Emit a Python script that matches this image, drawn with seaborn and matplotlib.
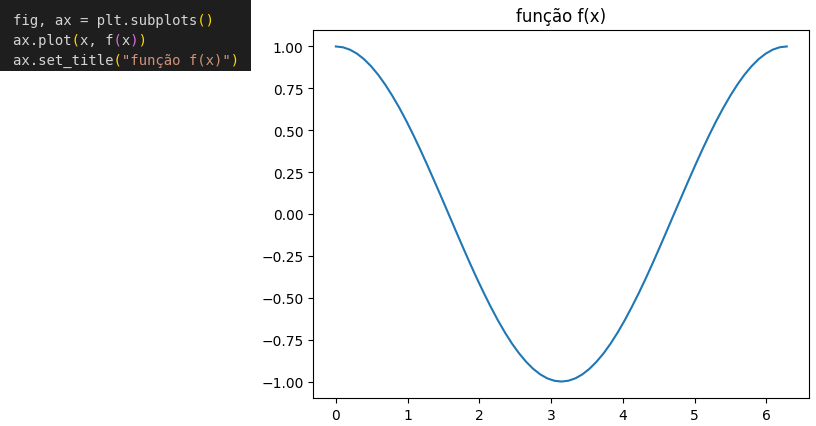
import matplotlib
matplotlib.use("Agg")
import matplotlib.pyplot as plt
from matplotlib.patches import Rectangle
import seaborn as sns
import pandas as pd

# Data
x_vals = [0.000, 0.098, 0.196, 0.295, 0.393, 0.491, 0.589, 0.687, 0.785, 0.884,
          0.982, 1.080, 1.178, 1.276, 1.374, 1.473, 1.571, 1.669, 1.767, 1.865,
          1.963, 2.062, 2.160, 2.258, 2.356, 2.454, 2.553, 2.651, 2.749, 2.847,
          2.945, 3.043, 3.142, 3.240, 3.338, 3.436, 3.534, 3.632, 3.731, 3.829,
          3.927, 4.025, 4.123, 4.222, 4.320, 4.418, 4.516, 4.614, 4.712, 4.811,
          4.909, 5.007, 5.105, 5.203, 5.301, 5.400, 5.498, 5.596, 5.694, 5.792,
          5.890, 5.989, 6.087, 6.185, 6.283]
y_vals = [1.0000, 0.9952, 0.9808, 0.9569, 0.9239, 0.8819, 0.8315, 0.7730, 0.7071, 0.6344,
          0.5556, 0.4714, 0.3827, 0.2903, 0.1951, 0.0980, 0.0000, -0.0980, -0.1951, -0.2903,
          -0.3827, -0.4714, -0.5556, -0.6344, -0.7071, -0.7730, -0.8315, -0.8819, -0.9239, -0.9569,
          -0.9808, -0.9952, -1.0000, -0.9952, -0.9808, -0.9569, -0.9239, -0.8819, -0.8315, -0.7730,
          -0.7071, -0.6344, -0.5556, -0.4714, -0.3827, -0.2903, -0.1951, -0.0980, 0.0000, 0.0980,
          0.1951, 0.2903, 0.3827, 0.4714, 0.5556, 0.6344, 0.7071, 0.7730, 0.8315, 0.8819,
          0.9239, 0.9569, 0.9808, 0.9952, 1.0000]
title_text = "função f(x)"
y_ticks = [-1.0, -0.75, -0.5, -0.25, 0.0, 0.25, 0.5, 0.75, 1.0]

# Code snippet: list of lines, each a list of (text, colour) segments
code_lines = [
    [("fig, ax = plt.subplots", "#d4d4d4"), ("()", "#ffd700")],
    [("ax.plot", "#d4d4d4"), ("(", "#ffd700"), ("x, f", "#d4d4d4"), ("(", "#da70d6"),
     ("x", "#d4d4d4"), (")", "#da70d6"), (")", "#ffd700")],
    [("ax.set_title", "#d4d4d4"), ("(", "#ffd700"), ('"função f(x)"', "#ce9178"), (")", "#ffd700")],
]

W, H = 816, 427
fig = plt.figure(figsize=(W / 100, H / 100), dpi=100)
ax = fig.add_axes([313.3 / W, (H - 399.3) / H, (809.3 - 313.3) / W, (399.3 - 30.7) / H])

df = pd.DataFrame({"x": x_vals, "y": y_vals})
sns.lineplot(data=df, x="x", y="y", ax=ax, color="#1f77b4", linewidth=1.5)
ax.set_title(title_text, fontsize=12)
ax.set_xlabel("")
ax.set_ylabel("")
ax.set_yticks(y_ticks)
ax.set_yticklabels([f"{v:.2f}".replace("-", "\u2212") for v in y_ticks])

# Dark code box
fig.patches.append(Rectangle((0, 1 - 72 / H), 251 / W, 72 / H, transform=fig.transFigure,
                             facecolor="#1e1e1e", edgecolor="none", zorder=0))
x0 = 13.3
line_y = [20.5, 40.5, 60.5]
for segs, ly in zip(code_lines, line_y):
    colours = []
    for txt, c in segs:
        if c not in colours:
            colours.append(c)
    for c in colours:
        s = "".join(txt if cc == c else " " * len(txt) for txt, cc in segs)
        fig.text(x0 / W, 1 - ly / H, s, color=c,
                 family="DejaVu Sans Mono", fontsize=10.1, va="center", ha="left")

fig.savefig("out.png", dpi=100)
